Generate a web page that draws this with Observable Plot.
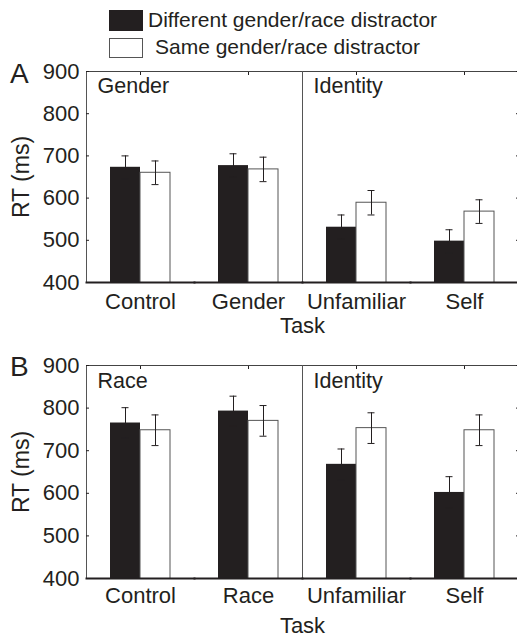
<!DOCTYPE html>
<html><head><meta charset="utf-8">
<script src="https://cdn.jsdelivr.net/npm/d3@7"></script>
<script src="https://cdn.jsdelivr.net/npm/@observablehq/plot@0.6"></script>
<style>
body{margin:0;background:#fff;font-family:"Liberation Sans",Arial,sans-serif;color:#231f20}
#root{position:relative;width:517px;height:637px;overflow:hidden;background:#fff}
.abs{position:absolute;line-height:1;white-space:nowrap}
</style></head><body><div id="root"></div>
<script>
// ---- data ----
const conditions = ["Different gender/race distractor", "Same gender/race distractor"];
const conditionFill = ["#231f20", "#ffffff"];
const tasksA = ["Control", "Gender", "Unfamiliar", "Self"];
const tasksB = ["Control", "Race", "Unfamiliar", "Self"];
const groupLabelsA = ["Gender", "Identity"];
const groupLabelsB = ["Race", "Identity"];
const groupFirstTask = ["Control", "Unfamiliar"];
const diffA = [673, 677, 531, 498];
const diffSeA = [27, 28, 29, 27];
const sameA = [660, 668, 589, 568];
const sameSeA = [28, 29, 29, 28];
const diffB = [765, 793, 668, 602];
const diffSeB = [36, 35, 36, 37];
const sameB = [748, 770, 753, 748];
const sameSeB = [36, 36, 36, 36];
const yTicks = [400, 500, 600, 700, 800, 900];
const yDomain = [400, 900];
const xLabel = "Task";
const yLabel = "RT (ms)";
const panelLetters = ["A", "B"];

const FONT = '"Liberation Sans", Arial, sans-serif';
const INK = "#231f20";
const root = document.getElementById("root");

function el(html, style) {
  const d = document.createElement("div");
  d.className = "abs";
  d.innerHTML = html;
  Object.assign(d.style, style);
  root.appendChild(d);
  return d;
}

// ---- legend ----
el("", {left: "109px", top: "10px", width: "34px", height: "21px", background: conditionFill[0]});
el(conditions[0], {left: "148px", top: "9px", fontSize: "21px"});
el("", {left: "109px", top: "38px", width: "32px", height: "18px", background: conditionFill[1], border: "1px solid #555"});
el(conditions[1], {left: "155px", top: "36px", fontSize: "21px"});

function panel(tasks, diff, diffSe, same, sameSe, groupLabels, opts) {
  const rows = [];
  tasks.forEach((t, i) => {
    rows.push({task: t, cond: conditions[0], rt: diff[i], se: diffSe[i]});
    rows.push({task: t, cond: conditions[1], rt: same[i], se: sameSe[i]});
  });
  const groups = groupLabels.map((g, i) => ({task: groupFirstTask[i], label: g}));
  return Plot.plot({
    width: 520,
    height: opts.height,
    marginLeft: 86,
    marginRight: 2,
    marginTop: opts.marginTop,
    marginBottom: opts.marginBottom,
    style: {fontFamily: FONT, fontSize: "22px", color: INK, background: "transparent", maxWidth: "none", overflow: "visible"},
    fx: {domain: tasks, padding: 0},
    x: {domain: conditions, paddingInner: 0, paddingOuter: 0.742, axis: null},
    y: {domain: yDomain},
    color: {domain: conditions, range: conditionFill},
    marks: [
      Plot.barY(rows, {fx: "task", x: "cond", y: "rt", fill: "cond", stroke: (d) => d.cond === conditions[1] ? "#555" : "none", strokeWidth: 1, clip: true}),
      Plot.ruleX(rows, {fx: "task", x: "cond", y1: (d) => d.rt - d.se, y2: (d) => d.rt + d.se, stroke: INK, strokeWidth: 1}),
      Plot.tickY(rows, {fx: "task", x: "cond", y: (d) => d.rt + d.se, stroke: INK, strokeWidth: 1, insetLeft: 11.5, insetRight: 11.5}),
      Plot.tickY(rows, {fx: "task", x: "cond", y: (d) => d.rt - d.se, stroke: INK, strokeWidth: 1, insetLeft: 11.5, insetRight: 11.5}),
      Plot.frame({anchor: "top", stroke: "#444", strokeWidth: 1}),
      ...groupFirstTask.map((t) => Plot.frame({anchor: "left", fx: () => t, stroke: "#555", strokeWidth: 1})),
      Plot.frame({anchor: "bottom", stroke: INK, strokeWidth: 2}),
      Plot.text(groups, {fx: "task", text: "label", frameAnchor: "top-left", textAnchor: "start", lineAnchor: "top", dx: 11, dy: opts.labelDy, fill: INK, fontSize: 21.5}),
      Plot.axisY({anchor: "left", ticks: yTicks, tickSize: -3, tickPadding: 10, label: null}),
      Plot.axisY({anchor: "left", ticks: [], label: yLabel, labelAnchor: "center", labelOffset: 74, labelArrow: "none", fontSize: 23}),
      Plot.axisY({anchor: "right", ticks: yTicks, tickSize: -3, tickFormat: () => "", label: null}),
      Plot.axisFx({anchor: "top", tickSize: -3, tickFormat: () => "", label: null}),
      Plot.axisFx({anchor: "bottom", tickSize: 0, tickPadding: opts.tickPad, label: xLabel, labelAnchor: "center", labelOffset: opts.labelOffset, labelArrow: "none"})
    ]
  });
}

const chartA = panel(tasksA, diffA, diffSeA, sameA, sameSeA, groupLabelsA,
  {height: 273, marginTop: 9, marginBottom: 53, labelDy: 6, tickPad: 11, labelOffset: 50});
const wrapA = el("", {left: "0px", top: "62px"});
wrapA.appendChild(chartA);

const chartB = panel(tasksB, diffB, diffSeB, sameB, sameSeB, groupLabelsB,
  {height: 302, marginTop: 30, marginBottom: 59, labelDy: 7, tickPad: 9, labelOffset: 54});
const wrapB = el("", {left: "0px", top: "335px"});
wrapB.appendChild(chartB);

// ---- panel letters ----
el(panelLetters[0], {left: "10px", top: "60px", fontSize: "28px"});
el(panelLetters[1], {left: "10px", top: "353px", fontSize: "28px"});
</script></body></html>
